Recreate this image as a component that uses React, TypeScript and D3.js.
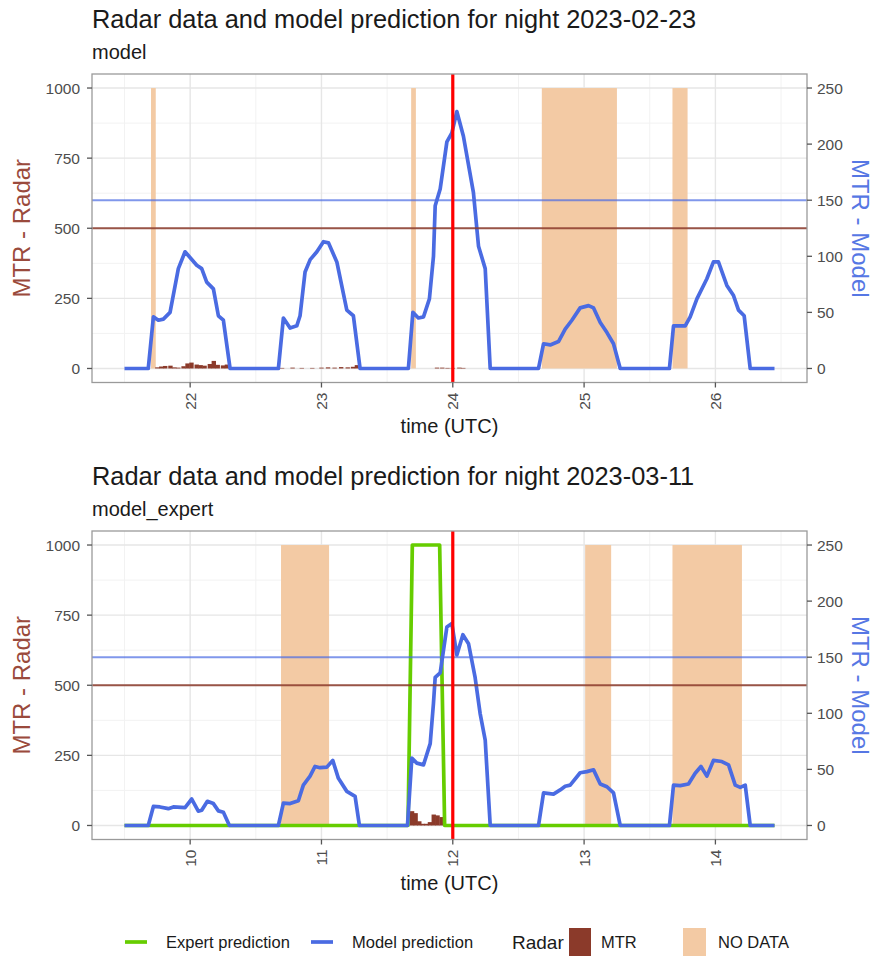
import React from 'react';
import * as d3 from 'd3';

const W = 879;
const H = 956;
const FONT = '"Liberation Sans", Arial, Helvetica, sans-serif';

const PANEL_X0 = 92;
const PANEL_X1 = 807;
const PANEL_H = 308.5;

const COL_MODEL = '#4a6be2';
const COL_EXPERT = '#66cd00';
const COL_MTR = '#8b3a2a';
const COL_NODATA = '#f3caa4';
const COL_NOW = '#ff0000';

const radarThreshold = 500;
const modelThreshold = 150;
const radarTicks = [0, 250, 500, 750, 1000];
const radarMinorTicks = [125, 375, 625, 875];
const modelTicks = [0, 50, 100, 150, 200, 250];

// ---- Night 2023-02-23 (model) ----
const hoursA = [22, 23, 24, 25, 26];
const nowA = 24;
const modelA: [number, number][] = [
  [21.5, 0], [21.681, 0], [21.72, 46], [21.758, 43], [21.796, 44], [21.847, 50],
  [21.91, 89], [21.961, 104], [21.999, 99], [22.05, 92], [22.088, 89], [22.126, 77],
  [22.177, 71], [22.215, 47], [22.253, 43], [22.304, 0],
  [22.672, 0], [22.71, 45], [22.761, 36], [22.812, 38], [22.837, 47], [22.875, 86],
  [22.914, 97], [22.965, 104], [23.015, 113], [23.053, 112], [23.117, 95],
  [23.193, 52], [23.243, 47], [23.294, 0],
  [23.662, 0], [23.696, 50], [23.738, 45], [23.777, 46], [23.822, 62], [23.853, 100],
  [23.866, 145], [23.904, 160], [23.955, 202], [23.993, 210], [24.031, 229],
  [24.081, 207], [24.157, 157], [24.196, 109], [24.247, 89], [24.285, 0],
  [24.653, 0], [24.691, 22], [24.742, 21], [24.805, 24], [24.856, 35], [24.907, 43],
  [24.97, 54], [25.034, 56], [25.072, 54], [25.123, 41], [25.174, 32], [25.224, 22],
  [25.275, 0],
  [25.65, 0], [25.681, 38], [25.77, 38], [25.808, 46], [25.859, 62], [25.935, 80],
  [25.985, 95], [26.023, 95], [26.087, 74], [26.138, 65], [26.176, 52], [26.219, 47],
  [26.265, 0], [26.45, 0],
];
const mtrA: [number, number][] = [
  [21.75, 4], [21.78, 7], [21.81, 9], [21.85, 10], [21.88, 4], [21.91, 3], [21.95, 8],
  [21.98, 18], [22.01, 21], [22.05, 14], [22.08, 12], [22.11, 10], [22.15, 16],
  [22.18, 27], [22.21, 13], [22.25, 11], [22.28, 14],
  [22.7, 2], [22.78, 3], [22.85, 2], [22.93, 2], [23.0, 3], [23.05, 4], [23.1, 3],
  [23.15, 5], [23.2, 4], [23.24, 6], [23.27, 12],
  [23.88, 3], [23.92, 3], [23.96, 2], [24.0, 2], [24.05, 3], [24.08, 2],
];
const noDataA: [number, number][] = [
  [21.702, 21.738], [23.683, 23.719], [24.678, 25.25], [25.673, 25.788],
];

// ---- Night 2023-03-11 (model_expert) ----
const hoursB = [10, 11, 12, 13, 14];
const nowB = 12;
const modelB: [number, number][] = [
  [9.5, 0], [9.681, 0], [9.72, 17], [9.77, 16.5], [9.834, 15], [9.872, 16.5],
  [9.961, 16], [10.012, 23.6], [10.062, 12.7], [10.088, 13.5], [10.131, 21.5],
  [10.177, 19.5], [10.215, 13], [10.253, 11.8], [10.299, 0],
  [10.672, 0], [10.71, 20], [10.761, 19.5], [10.824, 22], [10.862, 36], [10.913, 44],
  [10.951, 52.6], [10.989, 51.5], [11.041, 52], [11.086, 58], [11.129, 42],
  [11.193, 30.4], [11.256, 26], [11.289, 0],
  [11.655, 0], [11.688, 60], [11.726, 55.6], [11.777, 54], [11.828, 73], [11.853, 109],
  [11.866, 132], [11.904, 136], [11.929, 156], [11.955, 177], [11.993, 180],
  [12.031, 152], [12.077, 170], [12.12, 162], [12.17, 132], [12.208, 100],
  [12.247, 76], [12.285, 0],
  [12.653, 0], [12.691, 29], [12.767, 28], [12.818, 31.7], [12.856, 35], [12.894, 36],
  [12.97, 47], [13.021, 48], [13.072, 49.6], [13.123, 37], [13.174, 34.5],
  [13.224, 29], [13.275, 0],
  [13.65, 0], [13.681, 36], [13.732, 35.5], [13.795, 37], [13.846, 46.5], [13.89, 52.6],
  [13.935, 44], [13.985, 58], [14.049, 57], [14.1, 54], [14.151, 36], [14.189, 34],
  [14.227, 36], [14.265, 0], [14.45, 0],
];
const expertB: [number, number][] = [
  [9.5, 0], [11.659, 0], [11.692, 250], [11.9, 250], [11.938, 0], [14.45, 0],
];
const mtrB: [number, number][] = [
  [11.69, 51], [11.717, 44], [11.745, 15], [11.772, 6], [11.8, 6], [11.826, 12],
  [11.855, 39], [11.884, 36], [11.915, 30],
];
const noDataB: [number, number][] = [
  [10.692, 11.058], [13.008, 13.206], [13.673, 14.202],
];

const BAR_W = 1 / 30;

type Series = [number, number][];

interface PanelProps {
  top: number;
  title: string;
  subtitle: string;
  hours: number[];
  now: number;
  model: Series;
  expert?: Series;
  mtr: Series;
  noData: Series;
}

function Panel({ top, title, subtitle, hours, now, model, expert, mtr, noData }: PanelProps) {
  const y0 = top;
  const y1 = top + PANEL_H;
  const [tMin, tMax] = d3.extent(model, (d) => d[0]) as [number, number];
  const pad = (tMax - tMin) * 0.05;
  const x = d3.scaleLinear().domain([tMin - pad, tMax + pad]).range([PANEL_X0, PANEL_X1]);
  const yR = d3.scaleLinear().domain([-50, 1050]).range([y1, y0]);
  const yM = d3.scaleLinear().domain([-12.5, 262.5]).range([y1, y0]);

  const minorX = [hours[0] - 0.5, ...hours.map((h) => h + 0.5)].filter(
    (h) => h > x.domain()[0] && h < x.domain()[1]
  );

  const line = d3
    .line<[number, number]>()
    .x((d) => x(d[0]))
    .y((d) => yM(d[1]));

  const tickColor = '#4d4d4d';
  const gridMajor = '#e6e6e6';
  const gridMinor = '#f2f2f2';

  return (
    <g>
      <text x={PANEL_X0} y={top - 46} fontSize={25.4} fill="#1a1a1a" fontFamily={FONT}>
        {title}
      </text>
      <text x={PANEL_X0} y={top - 15} fontSize={20} fill="#1a1a1a" fontFamily={FONT}>
        {subtitle}
      </text>

      <rect x={PANEL_X0} y={y0} width={PANEL_X1 - PANEL_X0} height={PANEL_H} fill="#fff" />

      {/* grid */}
      {radarMinorTicks.map((v) => (
        <line key={'ym' + v} x1={PANEL_X0} x2={PANEL_X1} y1={yR(v)} y2={yR(v)} stroke={gridMinor} strokeWidth={1} />
      ))}
      {minorX.map((h) => (
        <line key={'xm' + h} x1={x(h)} x2={x(h)} y1={y0} y2={y1} stroke={gridMinor} strokeWidth={1} />
      ))}
      {radarTicks.map((v) => (
        <line key={'yg' + v} x1={PANEL_X0} x2={PANEL_X1} y1={yR(v)} y2={yR(v)} stroke={gridMajor} strokeWidth={1.4} />
      ))}
      {hours.map((h) => (
        <line key={'xg' + h} x1={x(h)} x2={x(h)} y1={y0} y2={y1} stroke={gridMajor} strokeWidth={1.4} />
      ))}

      {/* missing radar data */}
      {noData.map(([a, b], i) => (
        <rect key={'nd' + i} x={x(a)} y={yR(1000)} width={x(b) - x(a)} height={yR(0) - yR(1000)} fill={COL_NODATA} />
      ))}

      {/* radar MTR */}
      {mtr.map(([t, v], i) => (
        <rect
          key={'mtr' + i}
          x={x(t - BAR_W / 2)}
          y={yR(v)}
          width={x(t + BAR_W / 2) - x(t - BAR_W / 2)}
          height={yR(0) - yR(v)}
          fill={COL_MTR}
        />
      ))}

      {expert && (
        <path d={line(expert) || ''} fill="none" stroke={COL_EXPERT} strokeWidth={3.7} strokeLinejoin="round" />
      )}
      <path d={line(model) || ''} fill="none" stroke={COL_MODEL} strokeWidth={3.7} strokeLinejoin="round" />

      {/* thresholds */}
      <line x1={PANEL_X0} x2={PANEL_X1} y1={yR(radarThreshold)} y2={yR(radarThreshold)} stroke={COL_MTR} strokeOpacity={0.85} strokeWidth={2} />
      <line x1={PANEL_X0} x2={PANEL_X1} y1={yM(modelThreshold)} y2={yM(modelThreshold)} stroke={COL_MODEL} strokeOpacity={0.7} strokeWidth={2} />

      {/* current time */}
      <line x1={x(now)} x2={x(now)} y1={y0} y2={y1} stroke={COL_NOW} strokeWidth={3.2} />

      <rect x={PANEL_X0} y={y0} width={PANEL_X1 - PANEL_X0} height={PANEL_H} fill="none" stroke="#9a9a9a" strokeWidth={1.3} />

      {/* left axis (radar) */}
      {radarTicks.map((v) => (
        <g key={'lt' + v}>
          <line x1={PANEL_X0 - 5} x2={PANEL_X0} y1={yR(v)} y2={yR(v)} stroke="#555" strokeWidth={1.3} />
          <text x={PANEL_X0 - 12} y={yR(v)} dy="0.36em" textAnchor="end" fontSize={15.5} fill={tickColor} fontFamily={FONT}>
            {v}
          </text>
        </g>
      ))}
      {/* right axis (model) */}
      {modelTicks.map((v) => (
        <g key={'rt' + v}>
          <line x1={PANEL_X1} x2={PANEL_X1 + 5} y1={yM(v)} y2={yM(v)} stroke="#555" strokeWidth={1.3} />
          <text x={PANEL_X1 + 10} y={yM(v)} dy="0.36em" textAnchor="start" fontSize={15.5} fill={tickColor} fontFamily={FONT}>
            {v}
          </text>
        </g>
      ))}
      {/* time axis */}
      {hours.map((h) => (
        <g key={'bt' + h}>
          <line x1={x(h)} x2={x(h)} y1={y1} y2={y1 + 5} stroke="#555" strokeWidth={1.3} />
          <text
            transform={`translate(${x(h)},${y1 + 10}) rotate(-90)`}
            dy="0.36em"
            textAnchor="end"
            fontSize={15.5}
            fill={tickColor}
            fontFamily={FONT}
          >
            {h}
          </text>
        </g>
      ))}
      <text x={(PANEL_X0 + PANEL_X1) / 2} y={y1 + 50} textAnchor="middle" fontSize={20} fill="#1a1a1a" fontFamily={FONT}>
        time (UTC)
      </text>
      <text
        transform={`translate(30,${(y0 + y1) / 2}) rotate(-90)`}
        textAnchor="middle"
        fontSize={24}
        fill="#9a4a3c"
        fontFamily={FONT}
      >
        MTR - Radar
      </text>
      <text
        transform={`translate(852,${(y0 + y1) / 2}) rotate(90)`}
        textAnchor="middle"
        fontSize={24}
        fill="#5677e4"
        fontFamily={FONT}
      >
        MTR - Model
      </text>
    </g>
  );
}

function Legend({ y }: { y: number }) {
  return (
    <g fontFamily={FONT}>
      <line x1={125} x2={147} y1={y} y2={y} stroke={COL_EXPERT} strokeWidth={3.7} />
      <text x={166} y={y} dy="0.36em" fontSize={16.5} fill="#1a1a1a">
        Expert prediction
      </text>
      <line x1={311} x2={333} y1={y} y2={y} stroke={COL_MODEL} strokeWidth={3.7} />
      <text x={352} y={y} dy="0.36em" fontSize={16.5} fill="#1a1a1a">
        Model prediction
      </text>
      <text x={512} y={y} dy="0.36em" fontSize={19} fill="#1a1a1a">
        Radar
      </text>
      <rect x={569} y={y - 14} width={22} height={28} fill={COL_MTR} />
      <text x={601} y={y} dy="0.36em" fontSize={16.5} fill="#1a1a1a">
        MTR
      </text>
      <rect x={683} y={y - 14} width={23} height={28} fill={COL_NODATA} />
      <text x={718} y={y} dy="0.36em" fontSize={16.5} fill="#1a1a1a">
        NO DATA
      </text>
    </g>
  );
}

export default function App() {
  return (
    <svg
      width={W}
      height={H}
      viewBox={`0 0 ${W} ${H}`}
      style={{ position: 'absolute', left: 0, top: 0, background: '#fff' }}
    >
      <rect width={W} height={H} fill="#fff" />
      <Panel
        top={74}
        title="Radar data and model prediction for night 2023-02-23"
        subtitle="model"
        hours={hoursA}
        now={nowA}
        model={modelA}
        mtr={mtrA}
        noData={noDataA}
      />
      <Panel
        top={531}
        title="Radar data and model prediction for night 2023-03-11"
        subtitle="model_expert"
        hours={hoursB}
        now={nowB}
        model={modelB}
        expert={expertB}
        mtr={mtrB}
        noData={noDataB}
      />
      <Legend y={942} />
    </svg>
  );
}
